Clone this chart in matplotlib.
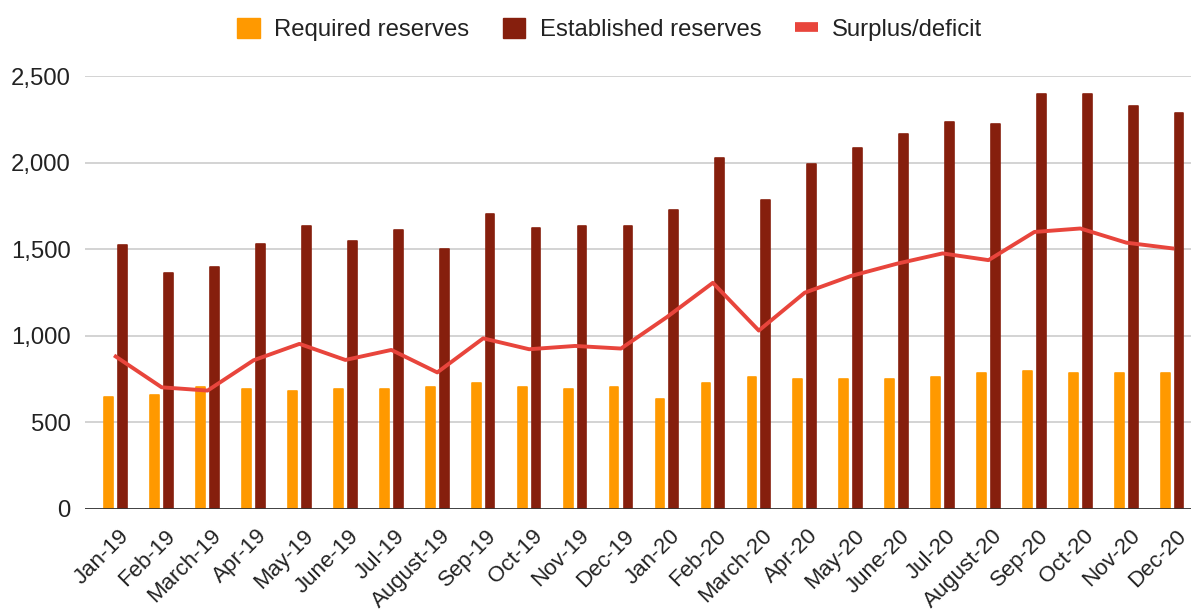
import matplotlib.pyplot as plt
import matplotlib.transforms as mtransforms
import numpy as np
from matplotlib.patches import Patch
from matplotlib.lines import Line2D

plt.rcParams['font.family'] = ['Liberation Sans', 'DejaVu Sans']

months = ['Jan-19', 'Feb-19', 'March-19', 'Apr-19', 'May-19', 'June-19', 'Jul-19',
          'August-19', 'Sep-19', 'Oct-19', 'Nov-19', 'Dec-19', 'Jan-20', 'Feb-20',
          'March-20', 'Apr-20', 'May-20', 'June-20', 'Jul-20', 'August-20', 'Sep-20',
          'Oct-20', 'Nov-20', 'Dec-20']
required = [645, 660, 705, 690, 680, 695, 695, 705, 725, 705, 695, 705,
            635, 725, 760, 750, 750, 750, 762, 785, 795, 785, 785, 785]
established = [1522, 1360, 1395, 1530, 1635, 1545, 1612, 1500, 1705, 1625, 1635, 1635,
               1725, 2025, 1785, 1990, 2083, 2165, 2233, 2222, 2396, 2396, 2327, 2290]
surplus = [880, 702, 683, 858, 953, 860, 918, 788, 985, 922, 941, 926,
           1108, 1306, 1030, 1249, 1345, 1416, 1476, 1437, 1600, 1620, 1538, 1505]

c_req = '#ff9900'
c_est = '#861f0d'
c_line = '#e8453c'
fs = 17.2

fig = plt.figure(figsize=(11.93, 6.1), dpi=100)
ax = fig.add_axes([0.071, 0.166, 0.927, 0.709])

x = np.arange(len(months))
w = 0.19
ax.bar(x - 0.15, required, w, color=c_req, edgecolor=c_req, linewidth=1.2,
       joinstyle='round', zorder=3)
ax.bar(x + 0.15, established, w, color=c_est, edgecolor=c_est, linewidth=1.2,
       joinstyle='round', zorder=3)
ax.plot(x, surplus, color=c_line, lw=2.8, zorder=4)

ax.set_xlim(-0.675, 23.4)
ax.set_ylim(0, 2500)
ax.set_yticks([0, 500, 1000, 1500, 2000, 2500])
ax.set_yticklabels(['0', '500', '1,000', '1,500', '2,000', '2,500'])
ax.yaxis.grid(True, color='#cccccc', lw=1.2, zorder=0)
ax.set_axisbelow(True)
ax.axhline(0, color='#333333', lw=2, zorder=5)
for s in ax.spines.values():
    s.set_visible(False)
ax.tick_params(axis='both', length=0, labelsize=fs, colors='#222222')
ax.tick_params(axis='y', pad=10)
ax.set_xticks(x)
ax.set_xticklabels(months, rotation=45, ha='right', va='top', rotation_mode='anchor',
                   fontsize=16)
ax.tick_params(axis='x', pad=12)
shift = mtransforms.ScaledTranslation(0.03, 0, fig.dpi_scale_trans)
for lab in ax.get_xticklabels():
    lab.set_transform(lab.get_transform() + shift)

handles = [Patch(facecolor=c_req, edgecolor=c_req, joinstyle='round'),
           Patch(facecolor=c_est, edgecolor=c_est, joinstyle='round'),
           Line2D([0], [0], color=c_line, lw=7, solid_capstyle='butt')]
fig.legend(handles, ['Required reserves', 'Established reserves', 'Surplus/deficit'],
           loc='center', bbox_to_anchor=(0.511, 0.952), ncol=3, frameon=False,
           fontsize=fs, handlelength=0.95, handleheight=0.95, handletextpad=0.6,
           columnspacing=1.4, labelcolor='#222222')

fig.savefig('out.png', dpi=100)
